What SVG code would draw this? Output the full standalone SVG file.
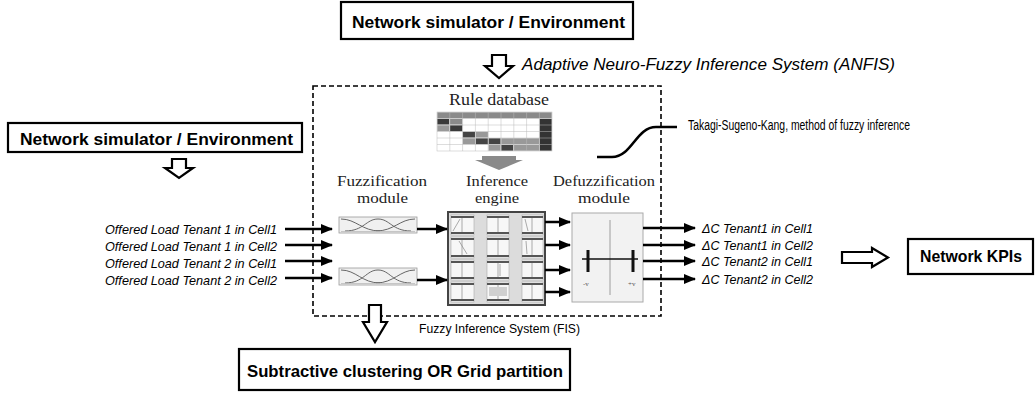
<svg xmlns="http://www.w3.org/2000/svg" width="1036" height="394" viewBox="0 0 1036 394">
<style>
.box{fill:#fff;stroke:#000;stroke-width:2.2}
.bold{font-family:"Liberation Sans",Arial,sans-serif;font-weight:bold;font-size:17px;fill:#000}
.it{font-family:"Liberation Sans",Arial,sans-serif;font-style:italic;font-size:13px;fill:#000}
.sans{font-family:"Liberation Sans",Arial,sans-serif;font-size:13px;fill:#000}
.serif{font-family:"Liberation Serif","Times New Roman",serif;font-size:15px;fill:#222}
.hollow{fill:#fff;stroke:#000;stroke-width:2.2;stroke-linejoin:miter}
.arr{stroke:#000;stroke-width:2.5;fill:none;marker-end:url(#ah)}
.cell{fill:#f7f7f7;stroke:#aaa;stroke-width:0.6}
.bar{fill:#555}
.mf{fill:none;stroke:#666;stroke-width:1}
</style>
<defs>
<marker id="ah" markerWidth="12" markerHeight="10" refX="11" refY="5" orient="auto" markerUnits="userSpaceOnUse">
<path d="M0,0 L12,5 L0,10 z" fill="#000"/>
</marker>
</defs>

<g id="top-env">
<rect class="box" x="341" y="2" width="292" height="37"/>
<text class="bold" x="352" y="28" textLength="273" lengthAdjust="spacingAndGlyphs">Network simulator / Environment</text>
</g>

<g id="anfis-label">
<polygon class="hollow" points="492,55 506,55 506,66 513,66 499,78 485,66 492,66"/>
<text class="it" x="522" y="70" style="font-size:17px" textLength="373" lengthAdjust="spacingAndGlyphs">Adaptive Neuro-Fuzzy Inference System (ANFIS)</text>
</g>

<g id="fis-frame">
<rect x="313" y="86" width="348" height="230" fill="none" stroke="#000" stroke-width="1.6" stroke-dasharray="5,3"/>
<text class="sans" x="419" y="333" textLength="161" lengthAdjust="spacingAndGlyphs">Fuzzy Inference System (FIS)</text>
</g>

<g id="left-env">
<rect class="box" x="8" y="123" width="294" height="29"/>
<text class="bold" x="20" y="145" textLength="273" lengthAdjust="spacingAndGlyphs">Network simulator / Environment</text>
<polygon class="hollow" points="172,159 186,159 186,168 193,168 179,178 165,168 172,168"/>
</g>

<g id="inputs">
<text class="it" x="105" y="234" textLength="172" lengthAdjust="spacingAndGlyphs">Offered Load Tenant 1 in Cell1</text>
<text class="it" x="105" y="251" textLength="172" lengthAdjust="spacingAndGlyphs">Offered Load Tenant 1 in Cell2</text>
<text class="it" x="105" y="268" textLength="172" lengthAdjust="spacingAndGlyphs">Offered Load Tenant 2 in Cell1</text>
<text class="it" x="105" y="285" textLength="172" lengthAdjust="spacingAndGlyphs">Offered Load Tenant 2 in Cell2</text>
</g>

<g id="rule-database">
<text class="serif" x="449" y="105" style="font-size:16px" textLength="100" lengthAdjust="spacingAndGlyphs">Rule database</text>
<g stroke="#fff" stroke-width="0.5">
<rect x="437" y="112" width="115" height="39" fill="#fff"/>
<rect x="437" y="112" width="115" height="6.5" fill="#8a8a8a"/>
<rect x="437" y="118.5" width="12.8" height="6.5" fill="#3a3a3a"/>
<rect x="449.8" y="118.5" width="12.8" height="6.5" fill="#8a8a8a"/>
<rect x="437" y="125" width="12.8" height="6.5" fill="#999"/>
<rect x="449.8" y="125" width="12.8" height="6.5" fill="#3a3a3a"/>
<rect x="462.6" y="131.5" width="12.8" height="6.5" fill="#444"/>
<rect x="475.4" y="131.5" width="12.8" height="6.5" fill="#999"/>
<rect x="462.6" y="138" width="12.8" height="6.5" fill="#999"/>
<rect x="475.4" y="138" width="12.8" height="6.5" fill="#444"/>
<rect x="488.2" y="144.5" width="12.8" height="6.5" fill="#999"/>
<rect x="501" y="144.5" width="12.8" height="6.5" fill="#444"/>
<rect x="513.8" y="144.5" width="25.6" height="6.5" fill="#999"/>
<rect x="488.2" y="138" width="12.8" height="6.5" fill="#444"/>
<rect x="501" y="138" width="38.4" height="6.5" fill="#999"/>
<rect x="539.4" y="118.5" width="12.6" height="32.5" fill="#333"/>
</g>
<g stroke="#bbb" stroke-width="0.5" fill="none">
<path d="M449.8,112V151M462.6,112V151M475.4,112V151M488.2,112V151M501,112V151M513.8,112V151M526.6,112V151M539.4,112V151"/>
<path d="M437,118.5H552M437,125H552M437,131.5H552M437,138H552M437,144.5H552"/>
<rect x="437" y="112" width="115" height="39"/>
</g>
<polygon points="482,156 516,156 516,160 523,160 499,170 475,160 482,160" fill="#8a8a8a"/>
</g>

<g id="tsk-label">
<path d="M597,157 L612,157 C632,157 636,127 656,127 L677,127" fill="none" stroke="#000" stroke-width="2.6"/>
<text class="sans" x="688" y="130" style="font-size:14px" textLength="222" lengthAdjust="spacingAndGlyphs">Takagi-Sugeno-Kang, method of fuzzy inference</text>
</g>

<g id="fuzzification">
<text class="serif" x="337" y="186" textLength="90" lengthAdjust="spacingAndGlyphs">Fuzzification</text>
<text class="serif" x="357" y="203" textLength="51" lengthAdjust="spacingAndGlyphs">module</text>
<rect x="339" y="217" width="78" height="16" fill="#f0f0f0" stroke="#999" stroke-width="0.8"/>
<path class="mf" d="M341,219 C356,219 362,231 380,231 M345,231 C364,231 366,219 378,219 C390,219 392,231 411,231 M376,231 C394,231 400,219 415,219"/>
<path d="M341,231.5H415" stroke="#bbb" stroke-width="0.8"/>
<rect x="339" y="268" width="78" height="17" fill="#f0f0f0" stroke="#999" stroke-width="0.8"/>
<path class="mf" d="M341,270 C356,270 362,283 380,283 M345,283 C364,283 366,270 378,270 C390,270 392,283 411,283 M376,283 C394,283 400,270 415,270"/>
<path d="M341,283.5H415" stroke="#bbb" stroke-width="0.8"/>
</g>

<g id="inference-engine">
<text class="serif" x="466" y="186" textLength="62" lengthAdjust="spacingAndGlyphs">Inference</text>
<text class="serif" x="475" y="203" textLength="44" lengthAdjust="spacingAndGlyphs">engine</text>
<rect x="448" y="212" width="97" height="93" fill="#dcdcdc" stroke="#444" stroke-width="2"/>
<g>
<rect class="cell" x="451" y="215" width="23" height="20"/><rect class="cell" x="487" y="215" width="22" height="20"/><rect class="cell" x="522" y="215" width="21" height="20"/>
<rect class="cell" x="451" y="237" width="23" height="21"/><rect class="cell" x="487" y="237" width="22" height="21"/><rect class="cell" x="522" y="237" width="21" height="21"/>
<rect class="cell" x="451" y="260" width="23" height="20"/><rect class="cell" x="487" y="260" width="22" height="20"/><rect class="cell" x="522" y="260" width="21" height="20"/>
<rect class="cell" x="451" y="282" width="23" height="20"/><rect class="cell" x="487" y="282" width="22" height="20"/><rect class="cell" x="522" y="282" width="21" height="20"/>
</g>
<g class="bar">
<rect x="451" y="216" width="23" height="2"/><rect x="487" y="216" width="22" height="2"/><rect x="522" y="216" width="21" height="2"/>
<rect x="451" y="232" width="23" height="2"/><rect x="487" y="232" width="22" height="2"/><rect x="522" y="232" width="21" height="2"/>
<rect x="451" y="238" width="23" height="2"/><rect x="487" y="238" width="22" height="2"/><rect x="522" y="238" width="21" height="2"/>
<rect x="451" y="255" width="23" height="2"/><rect x="487" y="255" width="22" height="2"/><rect x="522" y="255" width="21" height="2"/>
<rect x="451" y="261" width="23" height="2"/><rect x="487" y="261" width="22" height="2"/><rect x="522" y="261" width="21" height="2"/>
<rect x="451" y="277" width="23" height="2"/><rect x="487" y="277" width="22" height="2"/><rect x="522" y="277" width="21" height="2"/>
<rect x="451" y="283" width="23" height="2"/><rect x="487" y="283" width="22" height="2"/><rect x="522" y="283" width="21" height="2"/>
<rect x="451" y="299" width="23" height="2"/><rect x="487" y="299" width="22" height="2"/><rect x="522" y="299" width="21" height="2"/>
</g>
<g stroke="#888" stroke-width="0.7" fill="none">
<path d="M462,218V232M498,218V232M532,218V232M462,240V255M498,240V255M532,240V255M462,263V277M498,263V277M532,263V277M462,285V299M498,285V299M532,285V299"/>
<path d="M453,231L460,219M459,241L467,254M525,219L528,231M526,241L527,254M500,264L500,276"/>
<rect x="489" y="287" width="18" height="9" fill="#d0d0d0" stroke="none"/>
</g>
</g>

<g id="defuzzification">
<text class="serif" x="553" y="186" textLength="102" lengthAdjust="spacingAndGlyphs">Defuzzification</text>
<text class="serif" x="578" y="203" textLength="52" lengthAdjust="spacingAndGlyphs">module</text>
<rect x="572" y="213" width="71" height="89" fill="#f2f2f2" stroke="#aaa" stroke-width="1"/>
<path d="M610,220V295" stroke="#888" stroke-width="0.8"/>
<path d="M582,259H638" stroke="#111" stroke-width="1.6"/>
<path d="M588,250V272M633,250V272" stroke="#111" stroke-width="3"/>
<text x="583" y="286" style="font-family:'Liberation Serif',serif;font-size:7px" fill="#555">-v</text>
<text x="628" y="286" style="font-family:'Liberation Serif',serif;font-size:7px" fill="#555">+v</text>
</g>

<g id="outputs">
<text class="it" x="702" y="233" textLength="111" lengthAdjust="spacingAndGlyphs">ΔC Tenant1 in Cell1</text>
<text class="it" x="702" y="250" textLength="111" lengthAdjust="spacingAndGlyphs">ΔC Tenant1 in Cell2</text>
<text class="it" x="702" y="266" textLength="111" lengthAdjust="spacingAndGlyphs">ΔC Tenant2 in Cell1</text>
<text class="it" x="702" y="284" textLength="111" lengthAdjust="spacingAndGlyphs">ΔC Tenant2 in Cell2</text>
</g>

<g id="network-kpis">
<polygon class="hollow" points="842,252 872,252 872,248 888,257.5 872,267 872,263 842,263"/>
<rect class="box" x="908" y="239" width="125" height="35"/>
<text class="bold" x="920" y="262" textLength="102" lengthAdjust="spacingAndGlyphs">Network KPIs</text>
</g>

<g id="clustering">
<polygon class="hollow" points="369,305 381,305 381,322 387,322 375,342 363,322 369,322"/>
<rect class="box" x="239" y="349" width="331" height="41"/>
<text class="bold" x="247" y="377" textLength="316" lengthAdjust="spacingAndGlyphs">Subtractive clustering OR Grid partition</text>
</g>

<g id="connectors">
<line class="arr" x1="285" y1="229" x2="332" y2="229"/>
<line class="arr" x1="285" y1="245" x2="332" y2="245"/>
<line class="arr" x1="285" y1="261" x2="332" y2="261"/>
<line class="arr" x1="285" y1="278" x2="332" y2="278"/>
<line class="arr" x1="417" y1="229" x2="447" y2="229"/>
<line class="arr" x1="417" y1="280" x2="447" y2="280"/>
<line class="arr" x1="545" y1="222" x2="570" y2="222"/>
<line class="arr" x1="545" y1="245" x2="570" y2="245"/>
<line class="arr" x1="545" y1="270" x2="570" y2="270"/>
<line class="arr" x1="545" y1="292" x2="570" y2="292"/>
<line class="arr" x1="643" y1="228" x2="695" y2="228"/>
<line class="arr" x1="643" y1="245" x2="695" y2="245"/>
<line class="arr" x1="643" y1="261" x2="695" y2="261"/>
<line class="arr" x1="643" y1="279" x2="695" y2="279"/>
</g>
</svg>
